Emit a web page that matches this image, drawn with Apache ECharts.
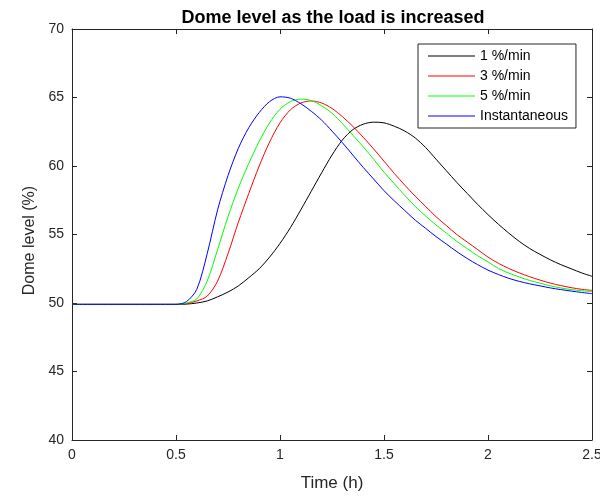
<!DOCTYPE html>
<html>
<head>
<meta charset="utf-8">
<script src="https://cdn.jsdelivr.net/npm/echarts@6/dist/echarts.min.js"></script>
<style>
html,body{margin:0;padding:0;background:#fff;overflow:hidden;}
#chart{width:600px;height:497px;}
</style>
</head>
<body>
<div id="chart"></div>
<script>
// Time grid (h)
var time = [0,0.05,0.1,0.15,0.2,0.25,0.3,0.35,0.4,0.45,0.5,0.55,0.6,0.65,0.7,0.75,0.8,0.85,0.9,0.95,1.0,1.05,1.1,1.15,1.2,1.25,1.3,1.35,1.4,1.45,1.5,1.55,1.6,1.65,1.7,1.75,1.8,1.85,1.9,1.95,2.0,2.05,2.1,2.15,2.2,2.25,2.3,2.35,2.4,2.45,2.5];

var rate1 = [49.9,49.9,49.9,49.9,49.9,49.9,49.9,49.9,49.9,49.9,49.9,49.92,50.0,50.15,50.45,50.8,51.25,51.85,52.5,53.35,54.35,55.5,56.8,58.15,59.5,60.8,61.9,62.65,63.05,63.2,63.15,62.9,62.55,62.05,61.35,60.5,59.65,58.8,58.0,57.2,56.45,55.75,55.1,54.5,53.98,53.55,53.15,52.8,52.5,52.2,51.95];

var rate3 = [49.9,49.9,49.9,49.9,49.9,49.9,49.9,49.9,49.9,49.9,49.9,49.95,50.15,50.5,51.6,53.6,55.9,58.0,60.0,61.75,63.15,64.1,64.6,64.75,64.6,64.2,63.6,62.9,62.1,61.25,60.35,59.45,58.6,57.8,57.05,56.3,55.65,55.0,54.45,53.9,53.35,52.9,52.52,52.2,51.92,51.67,51.45,51.27,51.12,51.0,50.92];

var rate5 = [49.9,49.9,49.9,49.9,49.9,49.9,49.9,49.9,49.9,49.9,49.9,50.0,50.3,51.6,53.9,56.3,58.4,60.2,61.8,63.15,64.15,64.7,64.88,64.78,64.4,63.85,63.1,62.25,61.4,60.5,59.55,58.7,57.85,57.05,56.35,55.7,55.1,54.5,53.97,53.45,53.0,52.52,52.18,51.9,51.65,51.45,51.25,51.1,50.98,50.9,50.83];

var instant = [49.9,49.9,49.9,49.9,49.9,49.9,49.9,49.9,49.9,49.9,49.9,50.1,51.0,53.6,56.8,59.3,61.3,62.8,63.9,64.7,65.05,64.95,64.55,64.0,63.35,62.55,61.7,60.8,59.9,59.05,58.2,57.45,56.75,56.05,55.45,54.85,54.3,53.75,53.25,52.8,52.4,52.08,51.8,51.58,51.4,51.25,51.1,50.98,50.87,50.77,50.68];

var seriesNames = ['1 %/min','3 %/min','5 %/min','Instantaneous'];
var seriesColors = ['#000000','#ff0000','#00ff00','#0000ff'];
var seriesValues = [rate1, rate3, rate5, instant];

var titleText = 'Dome level as the load is increased';
var xName = 'Time (h)';
var yName = 'Dome level (%)';

function pairs(vals){
  return time.map(function(t,i){ return [t, vals[i]]; });
}

var font = 'Helvetica, Arial, "Liberation Sans", sans-serif';
var axisColor = '#262626';

var chart = echarts.init(document.getElementById('chart'), null, {renderer:'canvas', width:600, height:497});

var series = seriesValues.map(function(v,i){
  return {
    name: seriesNames[i],
    type: 'line',
    data: pairs(v),
    showSymbol: false,
    symbol: 'none',
    smooth: 0.3,
    lineStyle: {color: seriesColors[i], width: 1},
    itemStyle: {color: seriesColors[i]},
    animation: false,
    z: 2 + i
  };
});

var option = {
  animation: false,
  backgroundColor: '#ffffff',
  title: {
    text: titleText,
    left: 328,
    top: 4,
    textAlign: 'center',
    textStyle: {fontFamily: font, fontSize: 18, fontWeight: 'bold', color: '#000'}
  },
  legend: {
    data: seriesNames,
    orient: 'vertical',
    left: 418,
    top: 44,
    icon: 'rect',
    itemWidth: 47,
    itemHeight: 1,
    itemGap: 6,
    padding: [5, 8, 5, 10],
    borderColor: axisColor,
    borderWidth: 1,
    backgroundColor: '#ffffff',
    textStyle: {fontFamily: font, fontSize: 14, color: '#000'},
    z: 10
  },
  grid: {left: 72, right: 8, top: 29, bottom: 57, containLabel: false, outerBoundsMode: 'none'},
  xAxis: [{
    type: 'value',
    min: 0, max: 2.5, interval: 0.5,
    position: 'bottom',
    name: xName,
    nameLocation: 'middle',
    nameGap: 35,
    nameTextStyle: {fontFamily: font, fontSize: 17, color: axisColor},
    axisLine: {show: true, onZero: false, lineStyle: {color: axisColor, width: 1}},
    axisTick: {show: true, inside: true, length: 5, lineStyle: {color: axisColor}},
    axisLabel: {fontFamily: font, fontSize: 14, color: axisColor, margin: 8,
      formatter: function(v){ return String(v); }},
    splitLine: {show: false}
  },{
    type: 'value',
    min: 0, max: 2.5, interval: 0.5,
    position: 'top',
    axisLine: {show: true, onZero: false, lineStyle: {color: axisColor, width: 1}},
    axisTick: {show: true, inside: true, length: 5, lineStyle: {color: axisColor}},
    axisLabel: {show: false},
    splitLine: {show: false}
  }],
  yAxis: [{
    type: 'value',
    min: 40, max: 70, interval: 5,
    position: 'left',
    name: yName,
    nameLocation: 'middle',
    nameGap: 26,
    nameRotate: 90,
    nameTextStyle: {fontFamily: font, fontSize: 16, color: axisColor, padding: [0, 12, 0, 0]},
    axisLine: {show: true, onZero: false, lineStyle: {color: axisColor, width: 1}},
    axisTick: {show: true, inside: true, length: 5, lineStyle: {color: axisColor}},
    axisLabel: {fontFamily: font, fontSize: 14, color: axisColor, margin: 8},
    splitLine: {show: false}
  },{
    type: 'value',
    min: 40, max: 70, interval: 5,
    position: 'right',
    axisLine: {show: true, onZero: false, lineStyle: {color: axisColor, width: 1}},
    axisTick: {show: true, inside: true, length: 5, lineStyle: {color: axisColor}},
    axisLabel: {show: false},
    splitLine: {show: false}
  }],
  series: series
};

chart.setOption(option);
</script>
</body>
</html>
